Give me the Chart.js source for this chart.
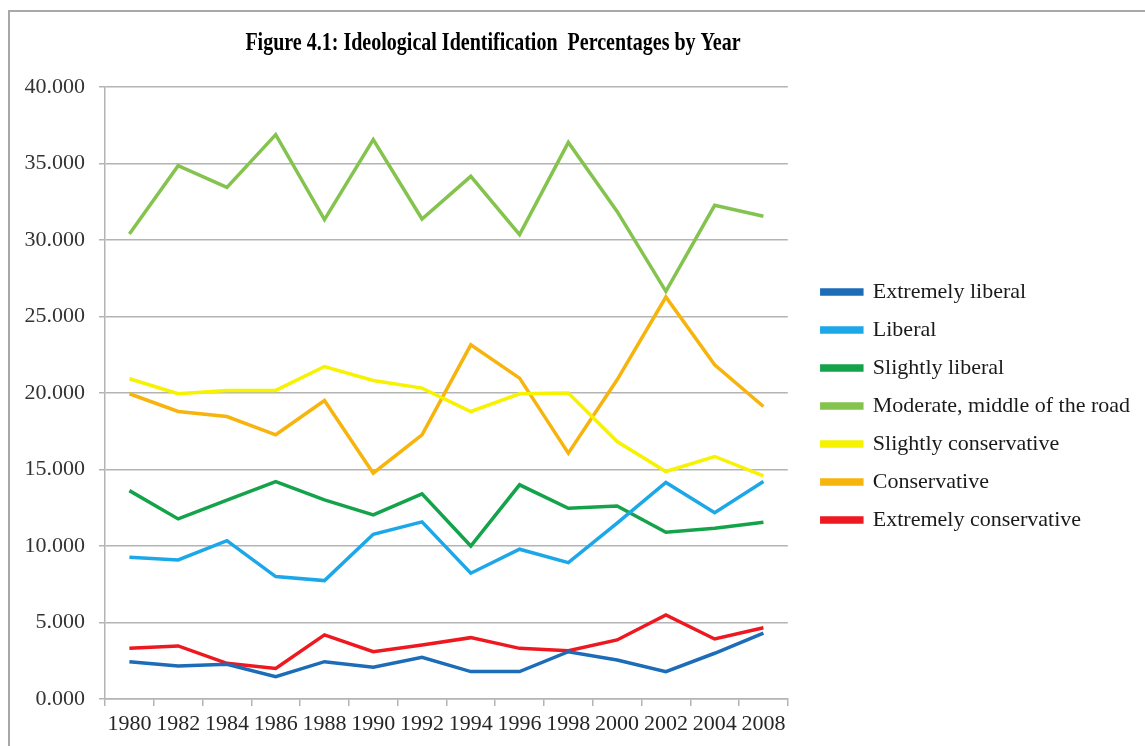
<!DOCTYPE html>
<html>
<head>
<meta charset="utf-8">
<script src="https://cdn.jsdelivr.net/npm/chart.js@4/dist/chart.umd.min.js"></script>
<style>
  html, body { margin: 0; padding: 0; background: #fff; overflow: hidden; }
  .wrap { position: relative; width: 1145px; height: 746px; }
  .frame {
    position: absolute; left: 8px; top: 10px; width: 2000px; height: 2000px;
    border-top: 2px solid #a8a8a8; border-left: 2px solid #a8a8a8;
    pointer-events: none;
  }
</style>
</head>
<body>
<div class="wrap">
  <canvas id="chart" width="1145" height="746"></canvas>
  <div class="frame"></div>
</div>
<script>
const years = ['1980', '1982', '1984', '1986', '1988', '1990', '1992', '1994', '1996', '1998', '2000', '2002', '2004', '2008'];

const extremelyLiberal = [2.44, 2.16, 2.27, 1.46, 2.44, 2.07, 2.72, 1.79, 1.79, 3.09, 2.55, 1.79, 2.99, 4.30];
const liberal = [9.27, 9.09, 10.35, 8.00, 7.74, 10.77, 11.58, 8.22, 9.79, 8.91, 11.49, 14.15, 12.18, 14.21];
const slightlyLiberal = [13.62, 11.77, 13.00, 14.21, 13.01, 12.03, 13.41, 10.00, 14.00, 12.47, 12.62, 10.90, 11.16, 11.55];
const moderate = [30.39, 34.86, 33.44, 36.89, 31.33, 36.56, 31.37, 34.16, 30.35, 36.38, 31.87, 26.64, 32.27, 31.55];
const slightlyConservative = [20.93, 19.95, 20.17, 20.17, 21.73, 20.82, 20.32, 18.79, 19.95, 20.00, 16.83, 14.87, 15.85, 14.58];
const conservative = [19.95, 18.79, 18.46, 17.27, 19.51, 14.76, 17.27, 23.15, 20.97, 16.07, 20.86, 26.27, 21.84, 19.12];
const extremelyConservative = [3.31, 3.47, 2.33, 2.00, 4.19, 3.09, 3.53, 4.01, 3.31, 3.16, 3.86, 5.49, 3.92, 4.66];

const seriesNames = ['Extremely liberal', 'Liberal', 'Slightly liberal', 'Moderate, middle of the road',
  'Slightly conservative', 'Conservative', 'Extremely conservative'];
const seriesValues = [extremelyLiberal, liberal, slightlyLiberal, moderate, slightlyConservative, conservative, extremelyConservative];
const seriesColors = ['#1c6cb8', '#1ca8e8', '#14a34a', '#84c44e', '#f6f200', '#f6b40c', '#ee1820'];

const chartTitle = 'Figure 4.1: Ideological Identification  Percentages by Year';
const serif = '"Liberation Serif", "Times New Roman", serif';
const gridGray = '#b4b4b4';

// title is drawn by hand so it can sit off-centre like the original
const titlePlugin = {
  id: 'figTitle',
  afterDraw(chart) {
    const ctx = chart.ctx;
    ctx.save();
    ctx.font = 'bold 26px ' + serif;
    ctx.fillStyle = '#000';
    ctx.textAlign = 'center';
    ctx.textBaseline = 'middle';
    ctx.translate(493, 43);
    ctx.scale(0.77, 1);
    ctx.fillText(chartTitle, 0, 0);
    ctx.restore();
  }
};

const datasets = seriesNames.map((name, i) => ({
  label: name,
  data: seriesValues[i],
  borderColor: seriesColors[i],
  backgroundColor: seriesColors[i],
  borderWidth: 3.5,
  pointRadius: 0,
  tension: 0,
}));

// invisible spacer axes, only there to push the plot area into place
const spacer = (pos, size) => ({
  type: 'linear',
  position: pos,
  display: true,
  afterFit(scale) {
    if (pos === 'top') scale.height = size; else scale.width = size;
  },
  grid: { display: false },
  border: { display: false },
  ticks: { display: false },
});

new Chart(document.getElementById('chart').getContext('2d'), {
  type: 'line',
  data: { labels: years, datasets: datasets },
  options: {
    responsive: false,
    animation: false,
    layout: { padding: { top: 66, right: 5, bottom: 0, left: 0 } },
    plugins: {
      title: { display: false },
      tooltip: { enabled: false },
      legend: {
        position: 'right',
        align: 'center',
        maxWidth: 400,
        labels: {
          boxWidth: 40,
          boxHeight: 4,
          padding: 16,
          color: '#1a1a1a',
          font: { family: serif, size: 22 },
        },
      },
    },
    scales: {
      x: {
        offset: true,
        afterFit(scale) { scale.height = 47; },
        grid: { display: true, drawOnChartArea: false, offset: true, tickLength: 7, color: gridGray, lineWidth: 1.5 },
        border: { display: true, color: gridGray, width: 1.5 },
        ticks: { autoSkip: false, maxRotation: 0, padding: 5, color: '#262626', font: { family: serif, size: 22 } },
      },
      y: {
        min: 0,
        max: 40,
        afterFit(scale) { scale.width = 105; },
        grid: { color: gridGray, lineWidth: 1.5, tickLength: 6 },
        border: { display: true, color: gridGray, width: 1.5 },
        ticks: {
          stepSize: 5,
          padding: 14,
          color: '#333',
          font: { family: serif, size: 22 },
          callback: (v) => Number(v).toFixed(3),
        },
      },
      gapTop: spacer('top', 21),
      gapRight: spacer('right', 18),
    },
  },
  plugins: [titlePlugin],
});
</script>
</body>
</html>
